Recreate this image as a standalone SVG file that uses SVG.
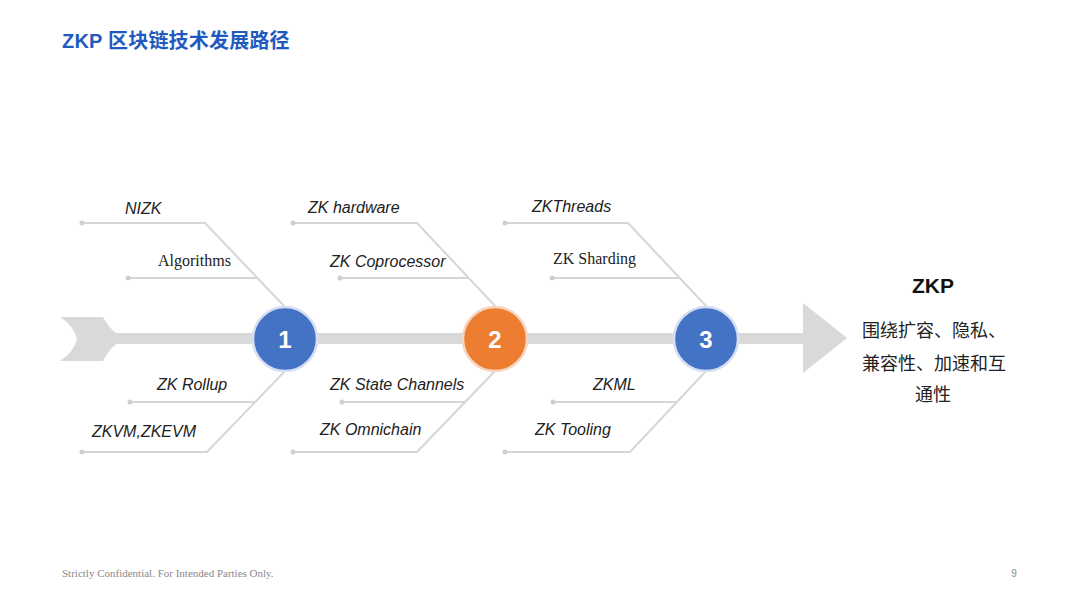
<svg xmlns="http://www.w3.org/2000/svg" width="1080" height="607" viewBox="0 0 1080 607">
<defs>
<style>
.bone{stroke:#D6D6D6;stroke-width:2;fill:none}
.dot{fill:#CFCFCF}
.lbl{font-family:"Liberation Sans",Arial,sans-serif;font-style:italic;font-size:16px;fill:#222}
.lbls{font-family:"Liberation Serif","Times New Roman",serif;font-size:16px;fill:#222}
.num{font-family:"Liberation Sans",Arial,sans-serif;font-weight:bold;font-size:24px;fill:#fff;text-anchor:middle}
.cn{font-family:"Noto Sans CJK SC",sans-serif;font-size:18px;fill:#222;text-anchor:middle}
.spine{fill:#D9D9D9}
</style>
</defs>
<rect width="1080" height="607" fill="#fff"/>
<text x="62" y="48" font-family="'Liberation Sans','Noto Sans CJK SC',sans-serif" font-weight="bold" font-size="20" letter-spacing="0.2" fill="#1F5BBF">ZKP 区块链技术发展路径</text>

<g id="spine">
<path class="spine" d="M60,317 L103,317 Q108,327 116,333 L116,344 Q108,351 103,361 L60,361 Q74,352 77,339 Q74,326 60,317 Z"/>
<rect class="spine" x="112" y="333" width="692" height="11"/>
<polygon class="spine" points="803,303 847,338 803,373"/>
</g>

<g id="connectors">
<!-- stage 1 -->
<polyline class="bone" points="82,223 205,223 285,307"/>
<line class="bone" x1="128" y1="278" x2="257" y2="278"/>
<polyline class="bone" points="82,452 207,452 285,371"/>
<line class="bone" x1="130" y1="402" x2="254" y2="402"/>
<!-- stage 2 -->
<polyline class="bone" points="293,223 417,223 496,307"/>
<line class="bone" x1="340" y1="278" x2="469" y2="278"/>
<polyline class="bone" points="293,452 417,452 495,371"/>
<line class="bone" x1="342" y1="402" x2="465" y2="402"/>
<!-- stage 3 -->
<polyline class="bone" points="505,223 628,223 707,307"/>
<line class="bone" x1="552" y1="278" x2="680" y2="278"/>
<polyline class="bone" points="505,452 630,452 706,371"/>
<line class="bone" x1="553" y1="402" x2="678" y2="402"/>
<g>
<circle class="dot" cx="82" cy="223" r="2.5"/><circle class="dot" cx="128" cy="278" r="2.5"/>
<circle class="dot" cx="82" cy="452" r="2.5"/><circle class="dot" cx="130" cy="402" r="2.5"/>
<circle class="dot" cx="293" cy="223" r="2.5"/><circle class="dot" cx="340" cy="278" r="2.5"/>
<circle class="dot" cx="293" cy="452" r="2.5"/><circle class="dot" cx="342" cy="402" r="2.5"/>
<circle class="dot" cx="505" cy="223" r="2.5"/><circle class="dot" cx="552" cy="278" r="2.5"/>
<circle class="dot" cx="505" cy="452" r="2.5"/><circle class="dot" cx="553" cy="402" r="2.5"/>
</g>
</g>

<g id="labels">
<text class="lbl" x="125" y="214" font-size="19">NIZK</text>
<text class="lbls" x="158" y="266">Algorithms</text>
<text class="lbl" x="157" y="390" font-size="17.5">ZK Rollup</text>
<text class="lbl" x="92" y="437">ZKVM,ZKEVM</text>
<text class="lbl" x="308" y="213">ZK hardware</text>
<text class="lbl" x="330" y="267">ZK Coprocessor</text>
<text class="lbl" x="330" y="390">ZK State Channels</text>
<text class="lbl" x="320" y="435">ZK Omnichain</text>
<text class="lbl" x="532" y="212">ZKThreads</text>
<text class="lbls" x="553" y="264">ZK Sharding</text>
<text class="lbl" x="593" y="390" font-size="19">ZKML</text>
<text class="lbl" x="535" y="435">ZK Tooling</text>
</g>

<g id="node1">
<circle cx="285" cy="339" r="32" fill="#4472C4" stroke="#D5DFF1" stroke-width="2.5"/>
<text class="num" x="285" y="348">1</text>
</g>
<g id="node2">
<circle cx="495" cy="339" r="32" fill="#ED7D31" stroke="#F6D6C0" stroke-width="2.5"/>
<text class="num" x="495" y="348">2</text>
</g>
<g id="node3">
<circle cx="706" cy="339" r="32" fill="#4472C4" stroke="#D5DFF1" stroke-width="2.5"/>
<text class="num" x="706" y="348">3</text>
</g>

<g id="result">
<text x="933" y="293" font-family="'Liberation Sans',Arial,sans-serif" font-weight="bold" font-size="21" fill="#111" text-anchor="middle">ZKP</text>
<text class="cn" x="934" y="337">围绕扩容、隐私、</text>
<text class="cn" x="934" y="370">兼容性、加速和互</text>
<text class="cn" x="933" y="401">通性</text>
</g>

<text x="62" y="577" font-family="'Liberation Serif','Times New Roman',serif" font-size="11" fill="#8A8A8A">Strictly Confidential. For Intended Parties Only.</text>
<text x="1014" y="577" font-family="'Liberation Sans',Arial,sans-serif" font-size="10" fill="#8A8A8A" text-anchor="middle">9</text>
</svg>
